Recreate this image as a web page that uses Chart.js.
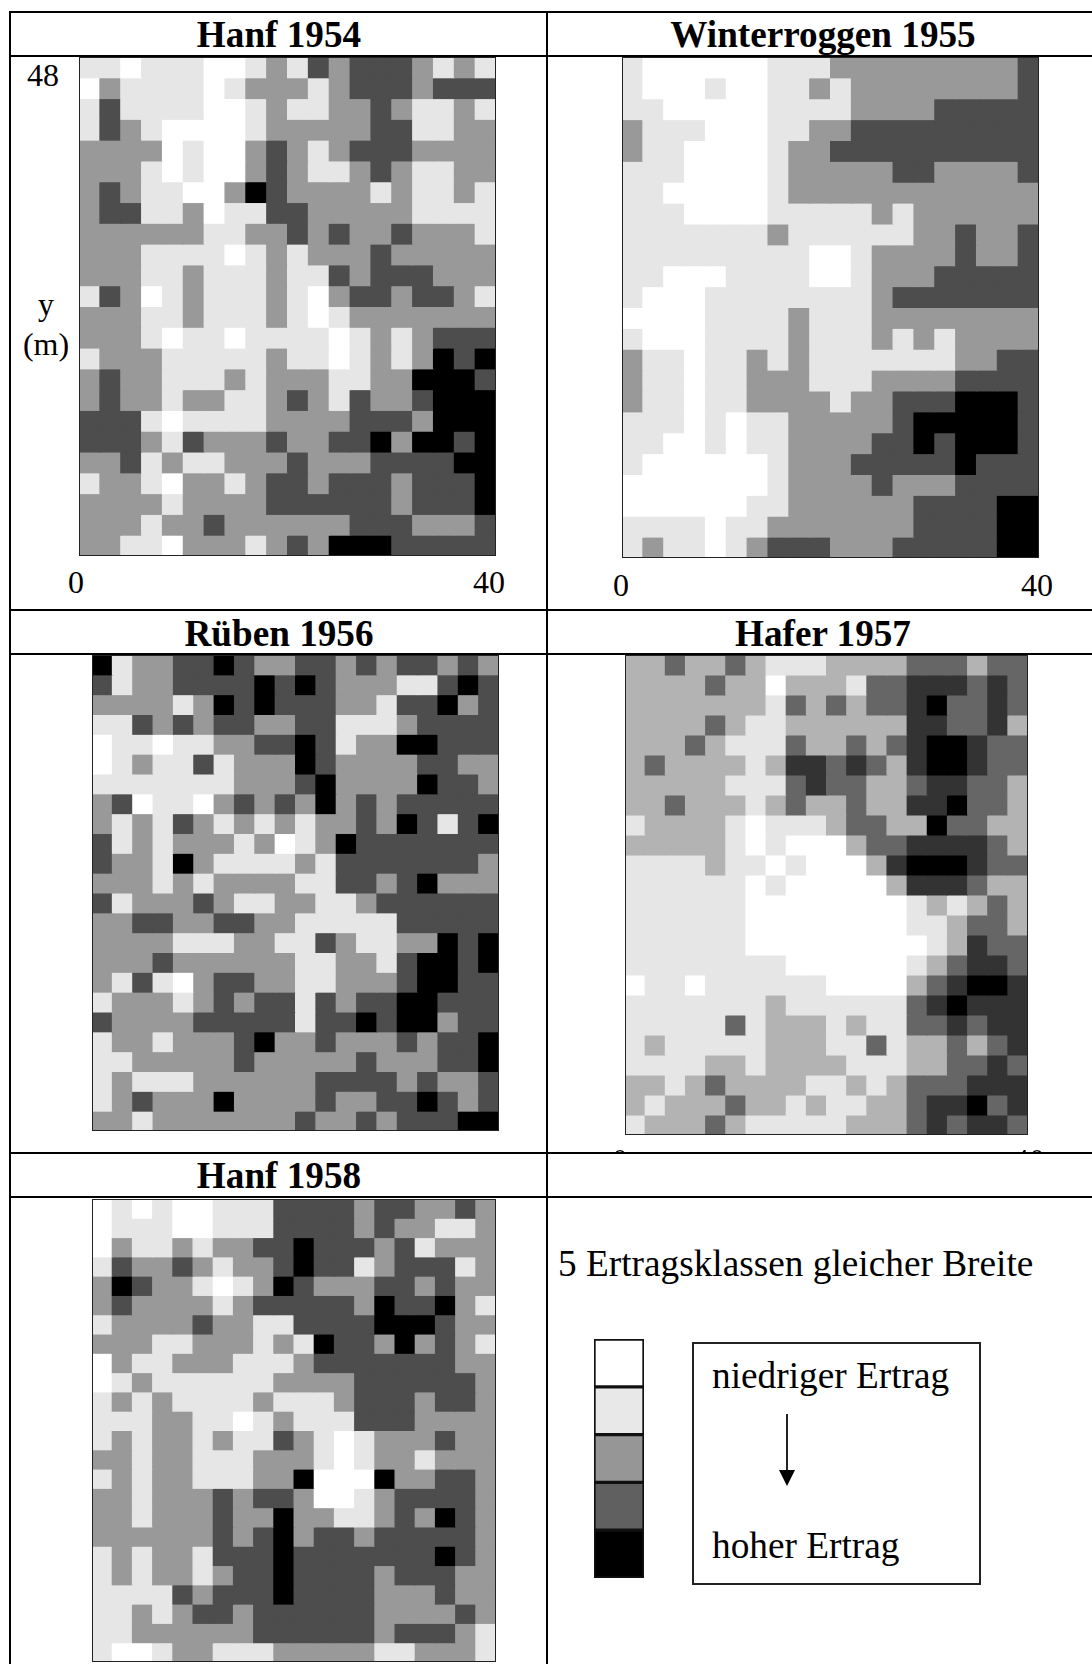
<!DOCTYPE html>
<html>
<head>
<meta charset="utf-8">
<title>Ertragsklassen</title>
<script src="https://cdn.jsdelivr.net/npm/chart.js@4"></script>
<style>
html, body { margin: 0; padding: 0; background: #fff; }
#page { position: relative; width: 1092px; height: 1664px; overflow: hidden; font-family: "Liberation Serif", serif; color: #000; }
.line { position: absolute; background: #000; }
.txt { position: absolute; white-space: nowrap; line-height: 1; }
.title { font-weight: bold; font-size: 37.2px; transform: translateX(-50%); }
.tick { font-size: 32px; transform: translateX(-50%); }
.leg { font-size: 37.3px; }
.plot { position: absolute; box-sizing: content-box; }
.plot canvas { display: block; }
.frame { position: absolute; left: 0; top: 0; right: 0; bottom: 0; border: 1px solid #222; pointer-events: none; }
#keybox { position: absolute; left: 692px; top: 1342px; width: 285px; height: 239px; border: 2px solid #222; }
#arrow { position: absolute; left: 786px; top: 1414px; width: 2px; height: 58px; background: #222; }
#head { position: absolute; left: 779px; top: 1470px; width: 0; height: 0; border-left: 8px solid transparent; border-right: 8px solid transparent; border-top: 16px solid #000; }
#cut { position: absolute; left: 600px; top: 1130px; width: 450px; height: 22px; overflow: hidden; }
</style>
</head>
<body>
<div id="page"></div>
<script>
// yield class per cell, row by row from the top of the field, 20 columns x 24 rows
const hanf1954 = [
  '11011100121323332121',
  '02111101222123332333',
  '13111100121122321121',
  '13210000122222331122',
  '22220100232123332222',
  '22210100232112321122',
  '23211002432222121121',
  '23311201133222221111',
  '22222211223232232221',
  '22211110121222322222',
  '22211211121132333222',
  '13201211121023323321',
  '22211211121012222222',
  '22210110111101212333',
  '12221111121101212434',
  '23221112122211224443',
  '23221221123213223444',
  '33310111122223332444',
  '33321322232233424434',
  '22312112223222333344',
  '12210221233233323334',
  '22221222233333323334',
  '22212232222223332223',
  '22110222123244433333'
];
const winterroggen1955 = [
  '10000001112222222223',
  '10001001121222222223',
  '11000001111222233333',
  '21110001122333333333',
  '21100001223333333333',
  '11100001222223322223',
  '11000001222222222222',
  '11100001111121222222',
  '11111112111111223223',
  '11111111100122223223',
  '11000111100122233333',
  '10001111111123333333',
  '00001111211122222222',
  '10001111211121212222',
  '21101121211111112233',
  '21101122211122223333',
  '21101122221223334443',
  '11101011222223444443',
  '11001011222233434443',
  '10000001222333334333',
  '00000001222232223333',
  '00000011222222333344',
  '11110112222222333344',
  '12110123332223333344'
];
const rueben1956 = [
  '41223343223323233232',
  '31223333434322211343',
  '22221243433322133423',
  '11323233223311123333',
  '01101122334312244333',
  '01211312224322223322',
  '11111112223422224332',
  '23011023232423233333',
  '21213212121223243134',
  '31212221201243333333',
  '32214211112133333332',
  '22212122221133234222',
  '31222321122112333333',
  '22332233221111133333',
  '22221112211321122434',
  '22232222221122134434',
  '21310233221122234433',
  '12221232331323344333',
  '32222333331334344233',
  '12212223422322232334',
  '11222223222223222334',
  '12111222222333323223',
  '12322242222322334323',
  '22122222223223233344'
];
const hafer1957 = [
  '22322321112222333233',
  '22223220222133444343',
  '22222221323233453343',
  '22223211222222443342',
  '22232111322323455433',
  '23222212443432455433',
  '22222111343322344332',
  '22322212322322445332',
  '12222101112332253322',
  '22222101000233444432',
  '11112110100024555433',
  '11111101000002444322',
  '11111100000000121232',
  '11111100000000112332',
  '11111100000000012433',
  '11111111000000123443',
  '01101111110000234554',
  '11111112111111345444',
  '11111312221211334344',
  '12111112221131223234',
  '11112212222111223343',
  '22123222211212333444',
  '21222322121122344534',
  '12223211111222343443'
];
const hanf1958 = [
  '01010011133332332232',
  '01110011133332322112',
  '02112122334333231222',
  '13223212234331233312',
  '24322101243222332322',
  '23222212333332433421',
  '12222322113333444322',
  '22211222121433242321',
  '02112221112333333322',
  '01211111122223333332',
  '12121111211123332332',
  '11122110121113332222',
  '12122121132101222322',
  '22122111222101221222',
  '12122111224000422332',
  '22122232332001233332',
  '22122232242211232432',
  '22222232342332333332',
  '12122133343333333432',
  '12122123343333233322',
  '11113233343333222322',
  '11212332333333222232',
  '11222222333333233321',
  '10012211122222112221'
];

// greys of the yield classes
const greys = ['#ffffff', '#e6e6e6', '#999999', '#4d4d4d', '#000000'];
const haferGreys = ['#ffffff', '#e6e6e6', '#b3b3b3', '#666666', '#333333', '#000000'];
const keyGreys = ['#ffffff', '#e8e8e8', '#969696', '#606060', '#000000'];

const columns = ['0','2','4','6','8','10','12','14','16','18','20','22','24','26','28','30','32','34','36','38'];
const xTickLabels = ['0', '40'];
const yTickLabel = '48';

const page = document.getElementById('page');

function addLine(x, y, w, h) {
  const d = document.createElement('div');
  d.className = 'line';
  d.style.cssText = 'left:' + x + 'px;top:' + y + 'px;width:' + w + 'px;height:' + h + 'px';
  page.appendChild(d);
}

function addText(text, cls, x, y, parent) {
  const d = document.createElement('div');
  d.className = 'txt ' + cls;
  d.textContent = text;
  d.style.left = x + 'px';
  d.style.top = y + 'px';
  (parent || page).appendChild(d);
}

function addPanel(rows, palette, x, y, w, h) {
  const box = document.createElement('div');
  box.className = 'plot';
  box.style.cssText = 'left:' + x + 'px;top:' + y + 'px;width:' + w + 'px;height:' + h + 'px';
  const cv = document.createElement('canvas');
  cv.width = w;
  cv.height = h;
  cv.style.width = w + 'px';
  cv.style.height = h + 'px';
  box.appendChild(cv);
  const frame = document.createElement('div');
  frame.className = 'frame';
  box.appendChild(frame);
  page.appendChild(box);

  const datasets = rows.map(function (row) {
    const cells = row.split('').map(Number);
    return {
      data: cells.map(function () { return 1; }),
      backgroundColor: cells.map(function (c) { return palette[c]; }),
      borderWidth: 0,
      inflateAmount: 0.5,
      barPercentage: 1,
      categoryPercentage: 1
    };
  });

  new Chart(cv, {
    type: 'bar',
    data: { labels: columns, datasets: datasets },
    options: {
      responsive: false,
      animation: false,
      layout: { padding: 0 },
      plugins: { legend: { display: false }, tooltip: { enabled: false } },
      scales: {
        x: { stacked: true, display: false },
        y: { stacked: true, display: false, reverse: true, min: 0, max: rows.length }
      }
    }
  });
}

function addKey(x, y, w, h) {
  const cv = document.createElement('canvas');
  cv.width = w;
  cv.height = h;
  cv.style.cssText = 'position:absolute;left:' + x + 'px;top:' + y + 'px;width:' + w + 'px;height:' + h + 'px';
  page.appendChild(cv);
  new Chart(cv, {
    type: 'bar',
    data: {
      labels: ['Ertrag'],
      datasets: keyGreys.map(function (g) {
        return { data: [1], backgroundColor: g, borderColor: '#111', borderWidth: 2, borderSkipped: false, barPercentage: 1, categoryPercentage: 1 };
      })
    },
    options: {
      responsive: false,
      animation: false,
      layout: { padding: 2 },
      plugins: { legend: { display: false }, tooltip: { enabled: false } },
      scales: {
        x: { stacked: true, display: false },
        y: { stacked: true, display: false, reverse: true, min: 0, max: keyGreys.length }
      }
    }
  });
}

// table lines
addLine(9, 11, 1083, 2);
addLine(9, 55, 1083, 2);
addLine(9, 609, 1083, 2);
addLine(9, 653, 1083, 2);
addLine(9, 1152, 1083, 2);
addLine(9, 1196, 1083, 2);
addLine(9, 11, 2, 1653);
addLine(546, 11, 2, 1653);

// panel titles
addText('Hanf 1954', 'title', 279, 16);
addText('Winterroggen 1955', 'title', 823, 16);
addText('Rüben 1956', 'title', 279, 615);
addText('Hafer 1957', 'title', 823, 615);
addText('Hanf 1958', 'title', 279, 1157);

addPanel(hanf1954, greys, 79, 57, 417, 499);
addPanel(winterroggen1955, greys, 622, 57, 417, 501);
addPanel(rueben1956, greys, 92, 655, 407, 476);
addPanel(hafer1957, haferGreys, 625, 655, 403, 480);
addPanel(hanf1958, greys, 92, 1199, 404, 463);

// axis labels
addText(yTickLabel, 'tick', 43, 59);
addText('y', 'tick', 46, 288);
addText('(m)', 'tick', 46, 328);
addText(xTickLabels[0], 'tick', 76, 566);
addText(xTickLabels[1], 'tick', 489, 566);
addText(xTickLabels[0], 'tick', 621, 569);
addText(xTickLabels[1], 'tick', 1037, 569);

// tops of the labels cut off by the table line under Hafer 1957
const cut = document.createElement('div');
cut.id = 'cut';
page.appendChild(cut);
addText(xTickLabels[0], 'tick', 20, 14, cut);
addText(xTickLabels[1], 'tick', 429, 14, cut);

// key
addText('5 Ertragsklassen gleicher Breite', 'leg', 558, 1245);
addKey(592, 1337, 54, 243);
const keybox = document.createElement('div');
keybox.id = 'keybox';
page.appendChild(keybox);
addText('niedriger Ertrag', 'leg', 712, 1357);
addText('hoher Ertrag', 'leg', 712, 1527);
const arrow = document.createElement('div');
arrow.id = 'arrow';
page.appendChild(arrow);
const head = document.createElement('div');
head.id = 'head';
page.appendChild(head);
</script>
</body>
</html>
